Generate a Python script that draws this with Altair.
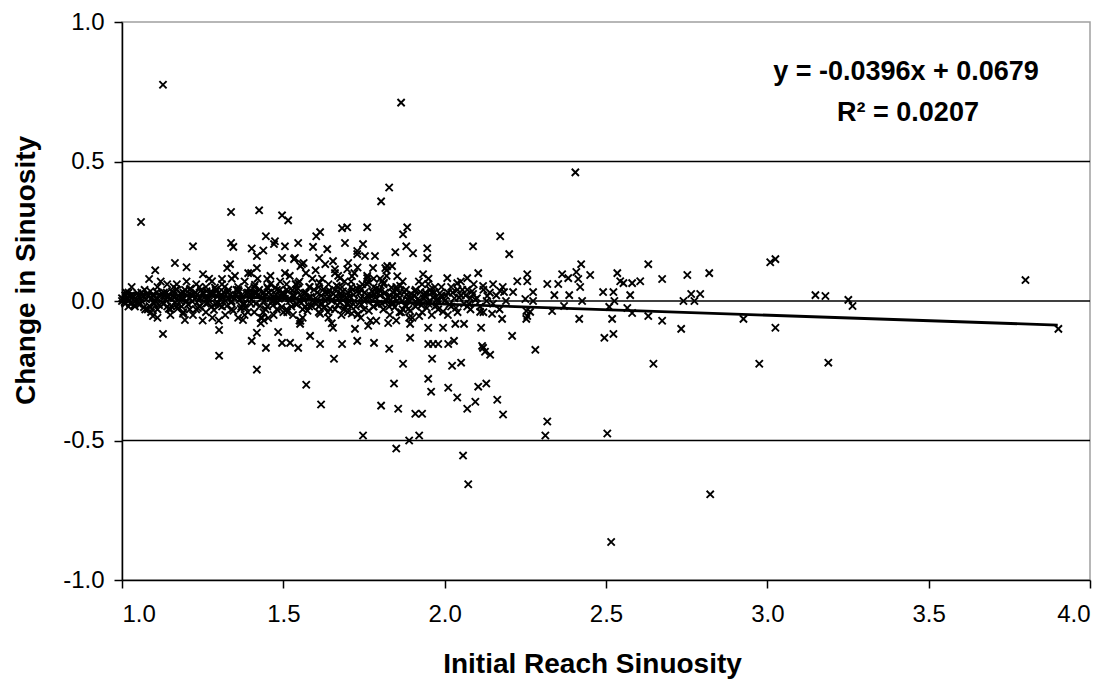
import altair as alt
import pandas as pd

# ---------------- data ----------------
x_ticks = [1.0, 1.5, 2.0, 2.5, 3.0, 3.5, 4.0]
y_ticks = [-1.0, -0.5, 0.0, 0.5, 1.0]
grid_values = [-0.5, 0.0, 0.5]

# dense band of reaches near zero change, grouped by initial sinuosity
band_100 = [(1.00, 0.01), (1.01, 0.02), (1.01, -0.01), (1.02, 0.00), (1.02, 0.03), (1.03, 0.01), (1.04, -0.02),
            (1.05, 0.02), (1.06, 0.00), (1.07, 0.04), (1.08, -0.03), (1.09, 0.01), (1.00, 0.00), (1.02, -0.02),
            (1.03, 0.05), (1.05, -0.01), (1.06, 0.03), (1.08, 0.02), (1.09, -0.04), (1.04, 0.00)]
band_110 = [(1.10, 0.02), (1.11, -0.03), (1.11, 0.05), (1.12, 0.00), (1.13, -0.01), (1.13, 0.03), (1.14, 0.06),
            (1.15, -0.05), (1.15, 0.01), (1.16, 0.02), (1.17, -0.02), (1.17, 0.04), (1.18, 0.00), (1.19, -0.04),
            (1.19, 0.03), (1.10, -0.01), (1.12, 0.07), (1.14, -0.02), (1.16, 0.05), (1.18, 0.01), (1.11, -0.06),
            (1.13, 0.02), (1.15, -0.03), (1.17, 0.06)]
band_120 = [(1.20, 0.00), (1.21, 0.04), (1.21, -0.03), (1.22, 0.02), (1.22, -0.05), (1.23, 0.06), (1.24, 0.01),
            (1.24, -0.02), (1.25, 0.03), (1.26, -0.04), (1.26, 0.05), (1.27, 0.00), (1.28, 0.02), (1.28, -0.06),
            (1.29, 0.04), (1.29, -0.01), (1.20, 0.07), (1.23, -0.03), (1.25, -0.07), (1.27, 0.08), (1.21, 0.01),
            (1.24, 0.05), (1.26, -0.01), (1.28, 0.03)]
band_130 = [(1.30, 0.03), (1.31, -0.02), (1.31, 0.06), (1.32, 0.00), (1.32, -0.05), (1.33, 0.04), (1.34, 0.08),
            (1.34, -0.03), (1.35, 0.01), (1.36, 0.05), (1.36, -0.06), (1.37, 0.02), (1.38, -0.01), (1.38, 0.07),
            (1.39, 0.03), (1.39, -0.04), (1.30, -0.07), (1.33, 0.01), (1.35, 0.09), (1.37, -0.02), (1.31, 0.02),
            (1.34, 0.00), (1.36, 0.04), (1.38, -0.05)]
band_140 = [(1.40, -0.01), (1.41, 0.05), (1.41, -0.04), (1.42, 0.02), (1.42, 0.08), (1.43, -0.06), (1.44, 0.03),
            (1.44, 0.00), (1.45, -0.02), (1.46, 0.06), (1.46, 0.01), (1.47, -0.05), (1.48, 0.04), (1.48, -0.03),
            (1.49, 0.07), (1.49, 0.02), (1.40, 0.10), (1.43, -0.08), (1.45, 0.05), (1.47, 0.00), (1.41, 0.03),
            (1.44, -0.07), (1.46, 0.09), (1.48, 0.01)]
band_150 = [(1.50, 0.02), (1.51, -0.03), (1.51, 0.06), (1.52, 0.00), (1.52, 0.09), (1.53, -0.05), (1.54, 0.04),
            (1.54, -0.01), (1.55, 0.07), (1.56, 0.01), (1.56, -0.06), (1.57, 0.03), (1.58, 0.05), (1.58, -0.02),
            (1.59, 0.00), (1.59, 0.08), (1.50, -0.04), (1.53, 0.02), (1.55, -0.07), (1.57, 0.10), (1.51, 0.04),
            (1.54, 0.06), (1.56, -0.03), (1.58, 0.01)]
band_160 = [(1.60, 0.01), (1.61, 0.05), (1.61, -0.04), (1.62, 0.08), (1.62, -0.01), (1.63, 0.03), (1.64, -0.06),
            (1.64, 0.06), (1.65, 0.00), (1.66, 0.04), (1.66, -0.03), (1.67, 0.09), (1.68, 0.02), (1.68, -0.05),
            (1.69, 0.07), (1.69, -0.02), (1.60, 0.11), (1.63, 0.00), (1.65, -0.08), (1.67, 0.05), (1.61, -0.02),
            (1.64, 0.03), (1.66, 0.10), (1.68, 0.01)]
band_170 = [(1.70, 0.03), (1.71, -0.02), (1.71, 0.07), (1.72, 0.00), (1.72, 0.10), (1.73, -0.05), (1.74, 0.04),
            (1.74, 0.01), (1.75, -0.03), (1.76, 0.06), (1.76, 0.02), (1.77, -0.07), (1.78, 0.05), (1.78, 0.08),
            (1.79, -0.01), (1.79, 0.03), (1.70, -0.04), (1.73, 0.12), (1.75, 0.00), (1.77, 0.02), (1.71, 0.05),
            (1.74, -0.06), (1.76, 0.09), (1.78, -0.02)]
band_180 = [(1.80, 0.02), (1.81, -0.03), (1.81, 0.06), (1.82, 0.00), (1.82, 0.09), (1.83, -0.05), (1.84, 0.03),
            (1.84, -0.01), (1.85, 0.05), (1.86, -0.04), (1.86, 0.01), (1.87, 0.07), (1.88, -0.02), (1.88, 0.04),
            (1.89, 0.00), (1.89, -0.06), (1.80, 0.08), (1.83, 0.02), (1.85, -0.07), (1.87, -0.03), (1.82, 0.11),
            (1.86, 0.03)]
band_190 = [(1.90, 0.01), (1.91, -0.02), (1.91, 0.04), (1.92, 0.00), (1.93, 0.06), (1.93, -0.04), (1.94, 0.02),
            (1.95, -0.01), (1.96, 0.03), (1.96, -0.05), (1.97, 0.05), (1.98, 0.00), (1.98, -0.03), (1.99, 0.02),
            (1.90, -0.06), (1.92, 0.07), (1.94, 0.03), (1.97, -0.02), (1.99, 0.05), (1.95, 0.08)]
band_200 = [(2.00, 0.00), (2.01, 0.03), (2.02, -0.02), (2.02, 0.05), (2.03, 0.01), (2.04, -0.04), (2.05, 0.02),
            (2.05, 0.07), (2.06, -0.01), (2.07, 0.04), (2.08, -0.03), (2.08, 0.01), (2.09, 0.06), (2.01, -0.05),
            (2.04, 0.04), (2.07, -0.02)]
band_210 = [(2.10, 0.01), (2.11, -0.02), (2.12, 0.04), (2.13, 0.00), (2.14, 0.03), (2.15, -0.01), (2.16, 0.02),
            (2.17, -0.03), (2.18, 0.05), (2.19, 0.00), (2.12, -0.04), (2.15, 0.06)]

# the darkest core of the band
core_100 = [(1.005, 0.005), (1.015, 0.012), (1.025, -0.008), (1.035, 0.018), (1.045, 0.002), (1.055, -0.012),
            (1.065, 0.015), (1.075, 0.006), (1.085, -0.018), (1.095, 0.022), (1.012, 0.030), (1.048, 0.028),
            (1.072, -0.030), (1.088, 0.035), (1.008, -0.004), (1.018, 0.008), (1.028, 0.020), (1.038, -0.015),
            (1.058, 0.010), (1.068, -0.022), (1.078, 0.026), (1.098, -0.006)]
core_110 = [(1.105, 0.010), (1.115, -0.015), (1.125, 0.025), (1.135, 0.005), (1.145, -0.028), (1.155, 0.035),
            (1.165, -0.005), (1.175, 0.018), (1.185, -0.020), (1.195, 0.040), (1.108, 0.032), (1.142, 0.012),
            (1.168, 0.042), (1.188, 0.008), (1.102, 0.002), (1.118, 0.018), (1.128, -0.010), (1.138, 0.030),
            (1.152, -0.018), (1.162, 0.012), (1.172, -0.028), (1.182, 0.028), (1.198, 0.000)]
core_120 = [(1.205, -0.012), (1.215, 0.022), (1.225, 0.008), (1.235, -0.025), (1.245, 0.038), (1.255, 0.012),
            (1.265, -0.008), (1.275, 0.028), (1.285, -0.032), (1.295, 0.015), (1.212, 0.045), (1.238, 0.002),
            (1.262, 0.035), (1.288, 0.048), (1.202, 0.020), (1.218, -0.002), (1.228, 0.030), (1.242, -0.018),
            (1.252, 0.025), (1.268, 0.010), (1.278, -0.020), (1.292, 0.035), (1.298, -0.008)]
core_130 = [(1.305, 0.010), (1.315, 0.032), (1.325, -0.018), (1.335, 0.022), (1.345, -0.035), (1.355, 0.040),
            (1.365, 0.005), (1.375, -0.012), (1.385, 0.028), (1.395, 0.012), (1.318, 0.050), (1.342, 0.015),
            (1.368, -0.028), (1.392, 0.045), (1.302, -0.015), (1.312, 0.012), (1.328, 0.030), (1.338, -0.005),
            (1.352, 0.020), (1.362, 0.035), (1.372, 0.010), (1.382, -0.022), (1.398, 0.025)]
core_140 = [(1.405, 0.025), (1.415, -0.010), (1.425, 0.040), (1.435, 0.012), (1.445, -0.030), (1.455, 0.030),
            (1.465, -0.002), (1.475, 0.048), (1.485, 0.010), (1.495, -0.022), (1.412, 0.058), (1.438, -0.040),
            (1.462, 0.022), (1.488, 0.038), (1.402, 0.005), (1.418, 0.030), (1.428, -0.018), (1.442, 0.018),
            (1.452, 0.045), (1.468, -0.015), (1.478, 0.022), (1.482, -0.005), (1.498, 0.030)]
core_150 = [(1.505, 0.008), (1.515, 0.035), (1.525, -0.020), (1.535, 0.018), (1.545, 0.045), (1.555, -0.008),
            (1.565, 0.028), (1.575, -0.035), (1.585, 0.015), (1.595, 0.040), (1.512, -0.040), (1.538, 0.060),
            (1.562, 0.005), (1.588, -0.018), (1.502, 0.025), (1.518, 0.010), (1.528, 0.038), (1.542, -0.012),
            (1.552, 0.022), (1.568, -0.020), (1.578, 0.012), (1.582, 0.050), (1.598, -0.005)]
core_160 = [(1.605, 0.030), (1.615, -0.012), (1.625, 0.042), (1.635, 0.010), (1.645, -0.028), (1.655, 0.025),
            (1.665, 0.055), (1.675, -0.005), (1.685, 0.035), (1.695, 0.012), (1.612, 0.065), (1.638, -0.040),
            (1.662, 0.018), (1.688, -0.030), (1.602, -0.010), (1.618, 0.020), (1.628, -0.022), (1.642, 0.038),
            (1.652, 0.005), (1.668, -0.015), (1.678, 0.028), (1.682, 0.050), (1.698, -0.012)]
core_170 = [(1.705, 0.015), (1.715, 0.040), (1.725, -0.020), (1.735, 0.028), (1.745, 0.060), (1.755, 0.005),
            (1.765, -0.035), (1.775, 0.035), (1.785, 0.012), (1.795, -0.010), (1.712, -0.045), (1.738, 0.050),
            (1.762, 0.070), (1.788, 0.045), (1.702, 0.000), (1.718, 0.022), (1.728, 0.045), (1.742, -0.012),
            (1.752, 0.030), (1.768, 0.010), (1.778, -0.020), (1.782, 0.025), (1.798, 0.040)]
core_180 = [(1.805, -0.010), (1.815, 0.030), (1.825, 0.012), (1.835, 0.048), (1.845, -0.022), (1.855, 0.020),
            (1.865, -0.040), (1.875, 0.032), (1.885, 0.005), (1.895, 0.025), (1.812, 0.065), (1.838, -0.005),
            (1.862, 0.055), (1.888, -0.028), (1.802, 0.035), (1.818, 0.005), (1.828, -0.020), (1.842, 0.015),
            (1.852, 0.040), (1.868, 0.000), (1.878, -0.015), (1.882, 0.022), (1.898, 0.010)]
core_190 = [(1.905, 0.020), (1.915, -0.008), (1.925, 0.032), (1.935, 0.010), (1.945, -0.025), (1.955, 0.040),
            (1.965, 0.012), (1.975, -0.015), (1.985, 0.028), (1.995, -0.038), (1.908, 0.035), (1.918, 0.008),
            (1.928, -0.015), (1.942, 0.015), (1.952, 0.000), (1.968, 0.030), (1.978, 0.008), (1.992, 0.015)]
core_200 = [(2.005, 0.018), (2.015, -0.012), (2.025, 0.030), (2.035, -0.025), (2.045, 0.012), (2.055, 0.040),
            (2.065, 0.020), (2.075, -0.010), (2.085, 0.035), (2.095, 0.005)]

# scattered reaches that gained sinuosity (left / middle of the range)
upper_points = [
    (1.127, 0.775), (1.865, 0.711), (1.059, 0.283), (1.338, 0.319), (1.425, 0.325), (1.496, 0.307), (1.515, 0.289),
    (1.828, 0.407), (1.803, 0.357), (1.220, 0.196), (1.103, 0.110), (1.164, 0.136), (1.200, 0.121), (1.338, 0.208),
    (1.345, 0.194), (1.402, 0.188), (1.438, 0.181), (1.418, 0.161), (1.446, 0.232), (1.474, 0.214), (1.505, 0.196),
    (1.496, 0.154), (1.546, 0.208), (1.592, 0.194), (1.602, 0.232), (1.614, 0.247), (1.636, 0.186), (1.682, 0.261),
    (1.698, 0.264), (1.760, 0.264), (1.691, 0.208), (1.747, 0.204), (1.753, 0.161), (1.784, 0.161), (1.611, 0.154),
    (1.630, 0.132), (1.654, 0.143), (1.701, 0.136), (1.729, 0.168), (1.871, 0.239), (1.884, 0.264), (1.881, 0.196),
    (1.902, 0.171), (1.946, 0.189), (1.946, 0.154), (1.847, 0.175), (1.837, 0.125), (1.816, 0.118), (2.088, 0.196),
    (2.104, 0.100), (2.172, 0.232), (1.933, 0.096), (1.533, 0.150), (1.558, 0.132), (1.505, 0.100), (1.418, 0.118),
    (1.326, 0.118), (1.251, 0.096), (1.084, 0.079), (2.008, 0.082), (2.070, 0.082), (2.119, 0.054), (1.760, 0.082),
    (1.778, 0.118), (1.660, 0.114), (1.676, 0.082), (1.822, 0.125), (1.471, 0.204), (1.536, 0.154), (1.335, 0.132),
    (1.553, 0.125), (1.563, 0.136), (1.546, 0.064), (1.279, 0.071), (1.310, 0.079), (1.391, 0.100), (1.450, 0.079),
    (1.729, 0.179), (1.698, 0.114), (1.713, 0.089), (1.806, 0.071), (1.853, 0.089), (1.949, 0.061), (2.039, 0.064),
    (2.172, 0.036), (2.088, 0.025), (2.132, 0.018),
]

# scattered reaches on the right-hand side of the range
right_points = [
    (2.405, 0.461), (2.200, 0.168), (2.423, 0.132), (2.364, 0.096), (2.383, 0.082), (2.408, 0.104), (2.414, 0.079),
    (2.451, 0.093), (2.535, 0.100), (2.554, 0.064), (2.581, 0.064), (2.606, 0.071), (2.631, 0.132), (2.674, 0.079),
    (2.752, 0.093), (2.820, 0.100), (2.792, 0.025), (2.764, 0.025), (2.740, 0.000), (3.009, 0.139), (3.025, 0.150),
    (3.149, 0.021), (3.180, 0.018), (3.251, 0.004), (3.264, -0.018), (2.926, -0.064), (3.025, -0.096), (2.975, -0.225),
    (3.189, -0.221), (2.647, -0.225), (2.733, -0.100), (2.674, -0.071), (2.631, -0.054), (2.581, -0.043),
    (2.523, -0.118), (2.495, -0.132), (2.519, -0.064), (2.417, -0.064), (2.281, -0.175), (2.209, -0.125),
    (2.178, -0.064), (2.147, -0.046), (2.253, -0.064), (2.253, -0.036), (2.265, -0.039), (2.318, 0.061),
    (2.352, 0.061), (2.340, 0.021), (2.386, 0.021), (2.225, 0.071), (2.256, 0.096), (2.256, 0.071), (2.184, 0.032),
    (2.212, 0.032), (2.274, 0.032), (2.491, 0.032), (2.523, 0.032), (2.575, 0.021), (2.544, 0.071), (2.823, -0.693),
    (2.516, -0.864), (2.504, -0.475), (2.312, -0.482), (2.318, -0.432), (2.181, -0.407), (2.163, -0.354),
    (2.129, -0.296), (2.119, -0.168), (3.800, 0.075), (3.902, -0.100), (2.420, 0.050), (2.426, 0.000),
    (2.526, 0.000), (2.250, 0.007), (2.274, 0.000), (2.774, 0.000), (2.256, -0.054), (2.333, -0.036),
    (2.370, -0.018), (2.510, -0.021), (2.566, -0.025),
]

# scattered reaches that lost sinuosity (left / middle of the range)
lower_points = [
    (1.096, -0.054), (1.127, -0.118), (1.195, -0.068), (1.301, -0.104), (1.301, -0.196), (1.375, -0.068),
    (1.418, -0.114), (1.402, -0.143), (1.446, -0.168), (1.418, -0.246), (1.484, -0.111), (1.496, -0.150),
    (1.521, -0.150), (1.546, -0.168), (1.552, -0.082), (1.571, -0.300), (1.614, -0.154), (1.617, -0.371),
    (1.654, -0.096), (1.657, -0.207), (1.682, -0.154), (1.729, -0.143), (1.722, -0.100), (1.732, -0.046),
    (1.763, -0.089), (1.781, -0.150), (1.788, -0.071), (1.828, -0.171), (1.825, -0.079), (1.871, -0.225),
    (1.843, -0.296), (1.803, -0.375), (1.856, -0.386), (1.893, -0.082), (1.893, -0.132), (1.909, -0.404),
    (1.930, -0.404), (1.747, -0.482), (1.850, -0.529), (1.890, -0.500), (1.921, -0.482), (1.949, -0.154),
    (1.964, -0.154), (1.980, -0.154), (1.961, -0.207), (1.949, -0.279), (1.958, -0.325), (1.949, -0.096),
    (1.995, -0.096), (2.011, -0.311), (2.039, -0.346), (2.023, -0.232), (2.051, -0.221), (2.011, -0.154),
    (2.029, -0.143), (2.033, -0.082), (2.060, -0.082), (2.070, -0.386), (2.095, -0.361), (2.104, -0.307),
    (2.113, -0.096), (2.116, -0.161), (2.141, -0.193), (2.057, -0.554), (2.073, -0.657), (2.110, -0.039),
    (2.125, -0.182), (1.553, -0.071), (1.434, -0.061), (1.453, -0.061), (1.189, -0.046), (1.093, -0.029),
    (1.921, -0.054), (1.893, -0.036), (1.614, -0.046), (1.583, -0.125),
]

# linear trend line as printed on the chart: y = -0.0396x + 0.0679
fit_x = [1.0, 3.9]
fit_y = [0.0283, -0.0865]
annotation_lines = ["y = -0.0396x + 0.0679", "R\u00b2 = 0.0207"]

# ---------------- chart ----------------
groups = [band_100, band_110, band_120, band_130, band_140, band_150, band_160, band_170,
          band_180, band_190, band_200, band_210,
          core_100, core_110, core_120, core_130, core_140, core_150, core_160, core_170,
          core_180, core_190, core_200,
          upper_points, right_points, lower_points]
rows = [p for g in groups for p in g]
df = pd.DataFrame(rows, columns=["x", "y"])
fit_df = pd.DataFrame({"x": fit_x, "y": fit_y})
grid_df = pd.DataFrame({"y": grid_values})

FONT = "Liberation Sans"
xs = alt.Scale(domain=[1.0, 4.0], nice=False, zero=False)
ys = alt.Scale(domain=[-1.0, 1.0], nice=False, zero=False)
hyphen_label = "datum.value < 0 ? '-' + format(-datum.value, '.1f') : format(datum.value, '.1f')"

x_axis = alt.Axis(values=x_ticks, labelExpr=hyphen_label, title="Initial Reach Sinuosity", grid=False,
                  labelPadding=14, titleX=470, titleY=84, titleBaseline="middle")
y_axis = alt.Axis(values=y_ticks, labelExpr=hyphen_label, title="Change in Sinuosity", grid=False,
                  labelPadding=10, titleX=-96, titleY=248, titleBaseline="middle", titleAngle=-90)

points = alt.Chart(df).mark_point(
    shape="M-1,-1L1,1M-1,1L1,-1", filled=False, color="black",
    strokeWidth=1.9, size=52, opacity=1
).encode(
    x=alt.X("x:Q", scale=xs, axis=x_axis),
    y=alt.Y("y:Q", scale=ys, axis=y_axis),
)

grid = alt.Chart(grid_df).mark_rule(color="black", strokeWidth=1.5).encode(
    y=alt.Y("y:Q", scale=ys, axis=y_axis)
)

fit = alt.Chart(fit_df).mark_line(color="black", strokeWidth=2.8).encode(
    x=alt.X("x:Q", scale=xs, axis=x_axis),
    y=alt.Y("y:Q", scale=ys, axis=y_axis),
)

ann_df = pd.DataFrame({"t": annotation_lines})
ann1 = alt.Chart(ann_df).transform_filter(alt.datum.t == annotation_lines[0]).mark_text(
    font=FONT, fontSize=27, fontWeight="bold", color="black", align="center", baseline="middle"
).encode(text="t:N", x=alt.value(784), y=alt.value(50))
ann2 = alt.Chart(ann_df).transform_filter(alt.datum.t == annotation_lines[1]).mark_text(
    font=FONT, fontSize=27, fontWeight="bold", color="black", align="center", baseline="middle"
).encode(text="t:N", x=alt.value(786), y=alt.value(91))

chart = alt.layer(points, grid, fit, ann1, ann2).properties(
    width=968, height=558,
    padding={"left": 114, "top": 14, "right": 16, "bottom": 104},
    autosize=alt.AutoSizeParams(type="none"),
    background="white",
).configure_view(
    stroke="#a0a0a0", strokeWidth=1.5
).configure_axis(
    domainColor="black", domainWidth=1.5, tickColor="black", tickWidth=1.5, tickSize=8,
    labelFont=FONT, labelFontSize=24, labelColor="black",
    titleFont=FONT, titleFontSize=28, titleFontWeight="bold", titleColor="black",
)

chart.save("out.html", embed_options={"renderer": "svg", "actions": False})
